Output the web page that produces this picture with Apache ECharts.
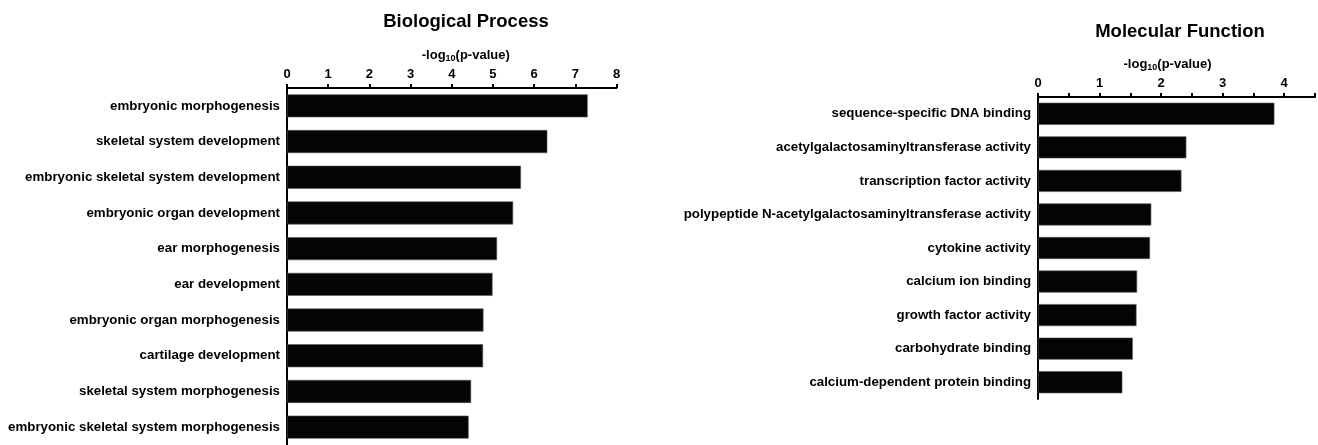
<!DOCTYPE html>
<html>
<head>
<meta charset="utf-8">
<script src="https://cdn.jsdelivr.net/npm/echarts@6/dist/echarts.min.js"></script>
<style>
  html, body { margin: 0; padding: 0; background: #fff; }
  #chart { width: 1318px; height: 445px; }
</style>
</head>
<body>
<div id="chart"></div>
<script>
// GO enrichment: Biological Process terms
const bpTerms = [
  'embryonic morphogenesis',
  'skeletal system development',
  'embryonic skeletal system development',
  'embryonic organ development',
  'ear morphogenesis',
  'ear development',
  'embryonic organ morphogenesis',
  'cartilage development',
  'skeletal system morphogenesis',
  'embryonic skeletal system morphogenesis'
];
const bpValues = [7.30, 6.32, 5.68, 5.49, 5.10, 4.99, 4.77, 4.76, 4.47, 4.41];

// GO enrichment: Molecular Function terms
const mfTerms = [
  'sequence-specific DNA binding',
  'acetylgalactosaminyltransferase activity',
  'transcription factor activity',
  'polypeptide N-acetylgalactosaminyltransferase activity',
  'cytokine activity',
  'calcium ion binding',
  'growth factor activity',
  'carbohydrate binding',
  'calcium-dependent protein binding'
];
const mfValues = [3.84, 2.41, 2.33, 1.84, 1.82, 1.61, 1.60, 1.54, 1.37];

const FONT = '"Liberation Sans", Arial, Helvetica, sans-serif';

function valueAxis(gridIndex, max, interval, nameShift, labelOnlyInt) {
  return {
    type: 'value',
    gridIndex: gridIndex,
    position: 'top',
    min: 0,
    max: max,
    interval: interval,
    name: '-log{sub|10}(p-value)',
    nameLocation: 'middle',
    nameGap: 25,
    nameTextStyle: {
      fontFamily: FONT,
      fontWeight: 'bold',
      fontSize: 13,
      color: '#000',
      padding: nameShift > 0 ? [0, 0, 0, nameShift * 2] : [0, -nameShift * 2, 0, 0],
      rich: {
        sub: { fontFamily: FONT, fontWeight: 'bold', fontSize: 9, color: '#000', padding: [6, 0, 0, 0] }
      }
    },
    axisLine: { show: true, lineStyle: { color: '#000', width: 2 } },
    axisTick: { show: true, inside: false, length: 4, lineStyle: { color: '#000', width: 2 } },
    axisLabel: {
      fontFamily: FONT,
      fontWeight: 'bold',
      fontSize: 13,
      color: '#000',
      margin: 7,
      showMaxLabel: true,
      formatter: function (v) {
        if (labelOnlyInt && Math.abs(v - Math.round(v)) > 1e-9) return '';
        return String(Math.round(v));
      }
    },
    splitLine: { show: false }
  };
}

function categoryAxis(gridIndex, terms) {
  return {
    type: 'category',
    gridIndex: gridIndex,
    data: terms,
    inverse: true,
    axisLine: { show: true, lineStyle: { color: '#000', width: 2 } },
    axisTick: { show: false },
    axisLabel: {
      fontFamily: FONT,
      fontWeight: 'bold',
      fontSize: 13.3,
      color: '#000',
      margin: 7
    },
    splitLine: { show: false }
  };
}

const chart = echarts.init(document.getElementById('chart'), null, { renderer: 'canvas' });

chart.setOption({
  backgroundColor: '#fff',
  animation: false,
  title: [
    {
      text: 'Biological Process',
      left: 461,
      top: 7,
      textAlign: 'center',
      textStyle: { fontFamily: FONT, fontWeight: 'bold', fontSize: 18.5, color: '#000' }
    },
    {
      text: 'Molecular Function',
      left: 1175,
      top: 17,
      textAlign: 'center',
      textStyle: { fontFamily: FONT, fontWeight: 'bold', fontSize: 18.5, color: '#000' }
    }
  ],
  grid: [
    { left: 287, top: 88, width: 329.5, height: 357, containLabel: false },
    { left: 1038, top: 97, width: 277, height: 302, containLabel: false }
  ],
  xAxis: [
    valueAxis(0, 8, 1, 14, false),
    valueAxis(1, 4.5, 0.5, -9, true)
  ],
  yAxis: [
    categoryAxis(0, bpTerms),
    categoryAxis(1, mfTerms)
  ],
  series: [
    {
      type: 'bar',
      xAxisIndex: 0,
      yAxisIndex: 0,
      data: bpValues,
      barWidth: 23,
      itemStyle: { color: '#040404', borderColor: '#555', borderWidth: 0.6 }
    },
    {
      type: 'bar',
      xAxisIndex: 1,
      yAxisIndex: 1,
      data: mfValues,
      barWidth: 22,
      itemStyle: { color: '#040404', borderColor: '#555', borderWidth: 0.6 }
    }
  ]
});
</script>
</body>
</html>
